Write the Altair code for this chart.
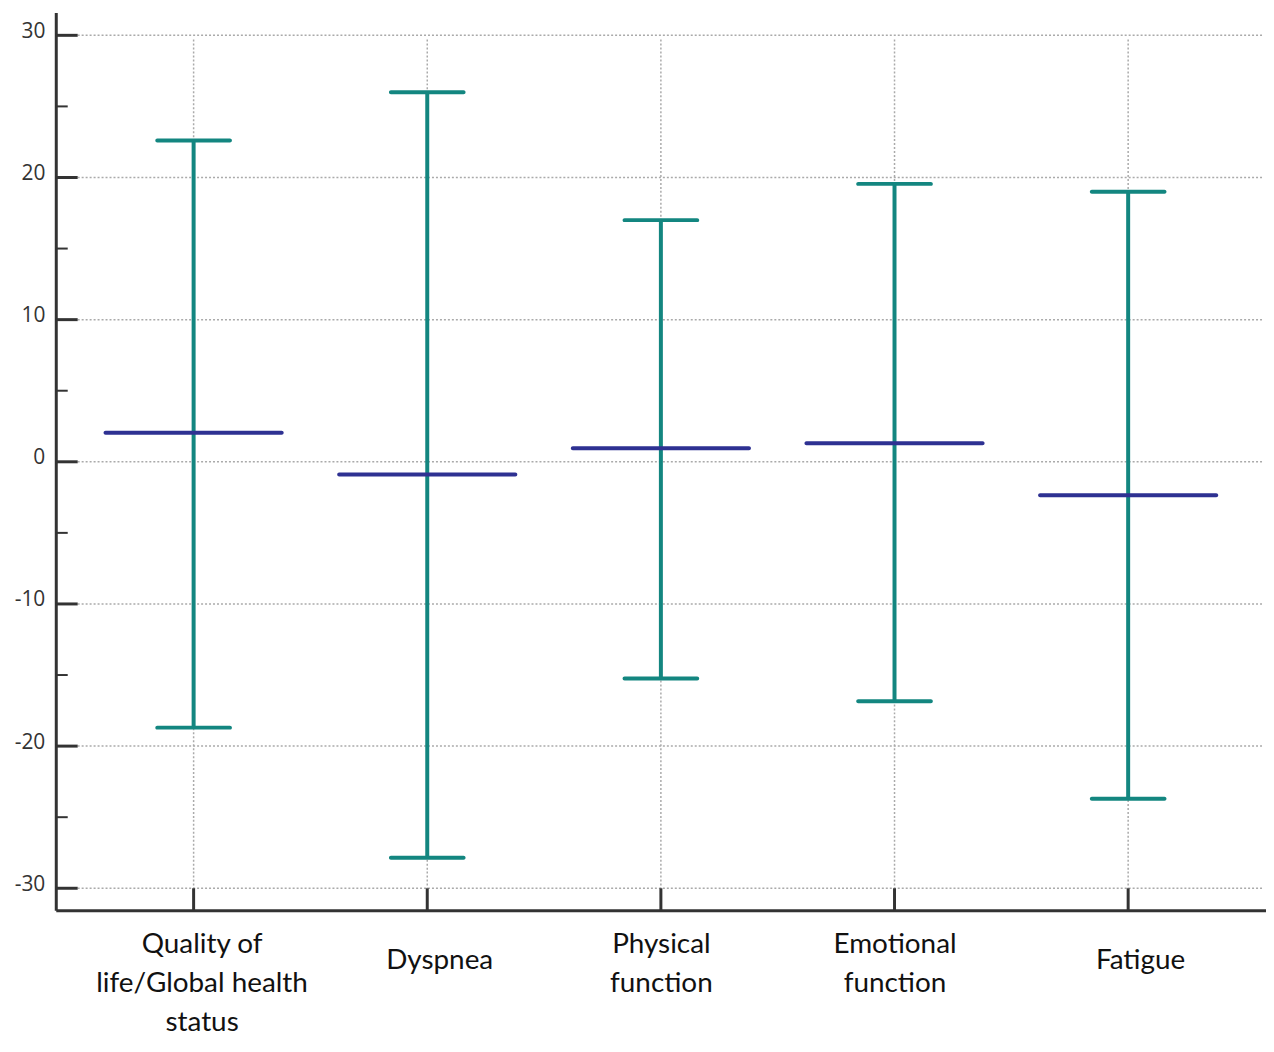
import altair as alt
import pandas as pd

categories = ["Quality of|life/Global health|status", "Dyspnea", "Physical|function",
              "Emotional|function", "Fatigue"]
upper = [22.6, 26.0, 17.0, 19.55, 19.0]
lower = [-18.7, -27.85, -15.25, -16.85, -23.7]
mean = [2.05, -0.9, 0.95, 1.3, -2.35]
y_ticks = [-30, -20, -10, 0, 10, 20, 30]
minor_ticks = [-25, -15, -5, 5, 15, 25]

df = pd.DataFrame({"cat": categories, "upper": upper, "lower": lower, "mean": mean})
grid_df = pd.DataFrame({"v": y_ticks})
minor_df = pd.DataFrame({"v": minor_ticks})

W, H = 1216, 902
teal = "#138680"
navy = "#2E3192"
axis_col = "#333333"
grid_col = "#aaaaaa"

xscale = alt.Scale(type="point", domain=categories, padding=0.59)
yscale = alt.Scale(domain=[-31.54, 31.61], nice=False, zero=False)

single = "datum.value == 'Dyspnea' || datum.value == 'Fatigue'"
x_axis = alt.Axis(
    title=None, labelExpr="split(datum.label, '|')", ticks=False, grid=False,
    domainColor=axis_col, domainWidth=3, labelFont="Lato", labelFontSize=28,
    labelColor="#111111", labelBaseline="top", labelLineHeight=39, labelAngle=0,
    labelPadding={"condition": {"test": single, "value": 37}, "value": 21},
    labelOffset={"condition": {"test": "true",
                               "expr": "(datum.value == 'Dyspnea' || datum.value == 'Fatigue') ? 12 : (indexof(datum.value, 'Quality') == 0 ? 8 : 0)"},
                 "value": 0},
    labelLimit=400,
)
y_axis = alt.Axis(
    title=None, values=y_ticks, ticks=False, grid=False, domainColor=axis_col,
    domainWidth=3, labelFont="Open Sans", labelFontSize=21, labelColor=axis_col,
    labelPadding=11, labelOffset=-4, labelExpr="'' + datum.value",
)

X = alt.X("cat:N", scale=xscale, axis=x_axis, sort=categories)

hgrid = alt.Chart(grid_df).mark_rule(color=grid_col, strokeDash=[2, 2], strokeWidth=1.5).encode(
    y=alt.Y("v:Q", scale=yscale, axis=y_axis), x=alt.value(22), x2=alt.value(W - 4)
)
vgrid = alt.Chart(df).mark_rule(color=grid_col, strokeDash=[2, 2], strokeWidth=1.5).encode(
    x=X, y=alt.datum(29.7, scale=yscale, axis=y_axis), y2=alt.datum(-30)
)
major = alt.Chart(grid_df).mark_rule(color=axis_col, strokeWidth=3).encode(
    y=alt.Y("v:Q", scale=yscale, axis=y_axis), x=alt.value(0), x2=alt.value(22)
)
minor = alt.Chart(minor_df).mark_rule(color=axis_col, strokeWidth=2).encode(
    y=alt.Y("v:Q", scale=yscale, axis=y_axis), x=alt.value(0), x2=alt.value(12)
)
xticks = alt.Chart(df).mark_rule(color=axis_col, strokeWidth=3).encode(
    x=X, y=alt.datum(-30, scale=yscale, axis=y_axis), y2=alt.value(H)
)
bars = alt.Chart(df).mark_rule(color=teal, strokeWidth=4).encode(
    x=X, y=alt.Y("lower:Q", scale=yscale, axis=y_axis), y2="upper:Q"
)
cap_hi = alt.Chart(df).mark_tick(color=teal, size=77, thickness=4, cornerRadius=2, opacity=1).encode(
    x=X, y=alt.Y("upper:Q", scale=yscale, axis=y_axis)
)
cap_lo = alt.Chart(df).mark_tick(color=teal, size=77, thickness=4, cornerRadius=2, opacity=1).encode(
    x=X, y=alt.Y("lower:Q", scale=yscale, axis=y_axis)
)
means = alt.Chart(df).mark_tick(color=navy, size=181, thickness=4, cornerRadius=2, opacity=1).encode(
    x=X, y=alt.Y("mean:Q", scale=yscale, axis=y_axis)
)

chart = alt.layer(hgrid, vgrid, bars, cap_hi, cap_lo, means, major, minor, xticks).properties(
    width=W, height=H,
    background="white",
    autosize=alt.AutoSizeParams(type="none"),
    padding={"left": 48, "top": 2, "right": 0, "bottom": 128},
).configure_view(stroke="transparent", strokeWidth=0)

chart.save("out.html", embed_options={"renderer": "svg", "actions": False})
